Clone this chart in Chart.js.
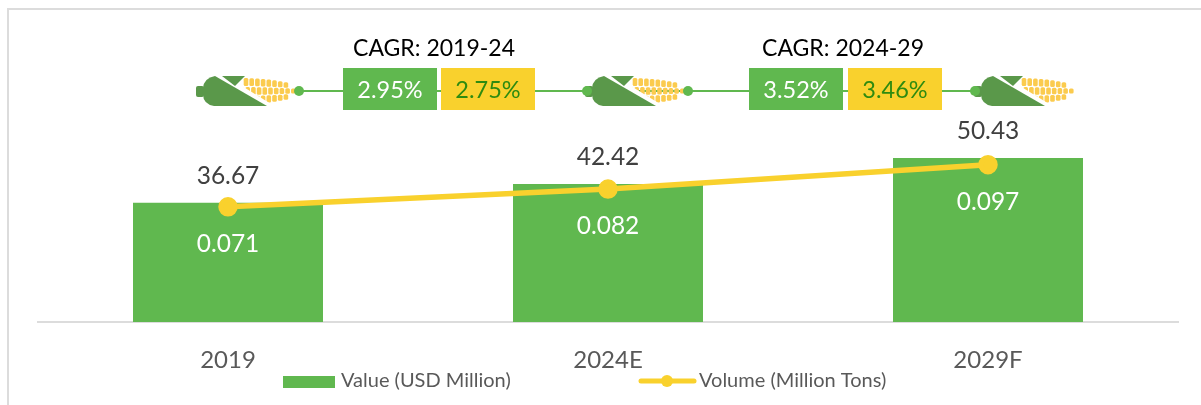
<!DOCTYPE html>
<html>
<head>
<meta charset="utf-8">
<style>
html, body { margin: 0; padding: 0; background: #fff; overflow: hidden; }
canvas { display: block; }
</style>
<script src="https://cdn.jsdelivr.net/npm/chart.js@4"></script>
</head>
<body>
<canvas id="chart" width="1201" height="405"></canvas>
<script>
// data
const categories = ['2019', '2024E', '2029F'];
const valueUsd = [36.67, 42.42, 50.43];
const volumeTons = [0.071, 0.082, 0.097];
const cagrTitles = ['CAGR: 2019-24', 'CAGR: 2024-29'];
const cagrValue = ['2.95%', '3.52%'];
const cagrVolume = ['2.75%', '3.46%'];

const GREEN = '#60B84F';
const YELLOW = '#F9D12D';
const FONT = 'Lato, sans-serif';

// corn cob icon, x is the left end of the stub
function drawCorn(ctx, x) {
    // rows of kernels: offset from the middle, first and last kernel x
    const rows = [[-9, 50, 90], [0, 46, 100], [9, 50, 94]];
    ctx.save();
    ctx.translate(x, 0);
    ctx.fillStyle = '#FBCB4E';
    rows.forEach((row, r) => {
        for (let kx = row[1]; kx <= row[2]; kx += 5.7) {
            const t = (kx - 46) / 54;
            const ky = 91 + row[0] * (1 - 0.5 * t * t);
            const h = 8 * (1 - 0.45 * t * t);
            ctx.beginPath();
            ctx.roundRect(kx - 2.3, ky - h / 2, 4.6, h, 1.5);
            ctx.fill();
        }
    });
    // white gap under the husk
    ctx.fillStyle = '#fff';
    ctx.beginPath();
    ctx.moveTo(0, 70);
    ctx.lineTo(20, 70);
    ctx.lineTo(80, 107);
    ctx.lineTo(0, 107);
    ctx.closePath();
    ctx.fill();
    // husk
    ctx.fillStyle = '#5A984A';
    ctx.beginPath();
    ctx.roundRect(0, 86, 8, 11, 2);
    ctx.fill();
    ctx.beginPath();
    ctx.moveTo(19, 76);
    ctx.lineTo(71, 106);
    ctx.lineTo(18, 106);
    ctx.quadraticCurveTo(7, 104, 7, 94);
    ctx.lineTo(7, 88);
    ctx.quadraticCurveTo(8, 78, 19, 76);
    ctx.closePath();
    ctx.fill();
    ctx.beginPath();
    ctx.moveTo(26, 76);
    ctx.lineTo(49, 76);
    ctx.lineTo(39, 86);
    ctx.closePath();
    ctx.fill();
    ctx.restore();
}

const decor = {
    id: 'decor',
    beforeDraw(chart) {
        const ctx = chart.ctx;
        // outer frame, only left and top show
        ctx.fillStyle = '#DCDCDC';
        ctx.fillRect(7, 8, 2, 397);
        ctx.fillRect(7, 8, 1194, 2);
    },
    afterDatasetsDraw(chart) {
        const ctx = chart.ctx;
        const bars = chart.getDatasetMeta(0).data;
        const points = chart.getDatasetMeta(1).data;
        ctx.save();
        ctx.textAlign = 'center';
        ctx.textBaseline = 'middle';
        // data labels
        ctx.font = '24.5px ' + FONT;
        bars.forEach((b, i) => {
            ctx.fillStyle = '#404040';
            ctx.fillText(valueUsd[i].toFixed(2), b.x, b.y - 27);
            ctx.fillStyle = '#fff';
            ctx.fillText(volumeTons[i].toFixed(3), points[i].x, points[i].y + 37);
        });

        // connector
        ctx.strokeStyle = GREEN;
        ctx.lineWidth = 2;
        ctx.beginPath();
        ctx.moveTo(299, 91);
        ctx.lineTo(975, 91);
        ctx.stroke();
        [196, 585, 974].forEach(x => drawCorn(ctx, x));
        [299, 587, 688, 975].forEach(cx => {
            ctx.fillStyle = GREEN;
            ctx.beginPath();
            ctx.arc(cx, 91, 5, 0, Math.PI * 2);
            ctx.fill();
        });

        // CAGR boxes, last number is the title centre
        const boxes = [[343, 441, 434], [749, 848, 843]];
        boxes.forEach((b, i) => {
            ctx.fillStyle = GREEN;
            ctx.fillRect(b[0], 68, 94, 42);
            ctx.fillStyle = YELLOW;
            ctx.fillRect(b[1], 68, 94, 42);
            ctx.font = '23.5px ' + FONT;
            ctx.fillStyle = '#fff';
            ctx.fillText(cagrValue[i], b[0] + 47, 90);
            ctx.fillStyle = '#2E8B10';
            ctx.fillText(cagrVolume[i], b[1] + 47, 90);
            ctx.fillStyle = '#000';
            ctx.font = '23px ' + FONT;
            ctx.fillText(cagrTitles[i], b[2], 49);
        });

        // legend
        const ds = chart.data.datasets;
        ctx.textAlign = 'left';
        ctx.font = '20px ' + FONT;
        ctx.fillStyle = GREEN;
        ctx.fillRect(283, 376, 52, 12);
        ctx.strokeStyle = YELLOW;
        ctx.lineWidth = 5;
        ctx.lineCap = 'round';
        ctx.beginPath();
        ctx.moveTo(641, 381);
        ctx.lineTo(694, 381);
        ctx.stroke();
        ctx.fillStyle = YELLOW;
        ctx.beginPath();
        ctx.arc(667, 381, 6, 0, Math.PI * 2);
        ctx.fill();
        ctx.fillStyle = '#595959';
        ctx.fillText(ds[0].label, 341, 381);
        ctx.fillText(ds[1].label, 699, 381);
        ctx.restore();
    }
};

new Chart(document.getElementById('chart'), {
    data: {
        labels: categories,
        datasets: [
            {
                type: 'bar',
                label: 'Value (USD Million)',
                data: valueUsd,
                yAxisID: 'y',
                backgroundColor: GREEN,
                categoryPercentage: 1,
                barPercentage: 0.5,
                order: 2
            },
            {
                type: 'line',
                label: 'Volume (Million Tons)',
                data: volumeTons,
                yAxisID: 'y1',
                borderColor: YELLOW,
                backgroundColor: YELLOW,
                borderWidth: 5.5,
                pointRadius: 7,
                pointHoverRadius: 7,
                tension: 0,
                order: 1
            }
        ]
    },
    options: {
        responsive: false,
        animation: false,
        layout: { padding: { left: 38, right: 23, top: 22, bottom: 0 } },
        plugins: {
            legend: { display: false },
            tooltip: { enabled: false }
        },
        scales: {
            x: {
                grid: { display: false },
                border: { color: '#DCDCDC', width: 2 },
                ticks: {
                    color: '#595959',
                    font: { family: FONT, size: 24 },
                    padding: 16,
                    maxRotation: 0
                },
                afterFit(scale) { scale.height = 83; }
            },
            y: { display: false, min: 0, max: 92.3 },
            y1: { display: false, min: 0, max: 0.185 }
        }
    },
    plugins: [decor]
});
</script>
</body>
</html>
